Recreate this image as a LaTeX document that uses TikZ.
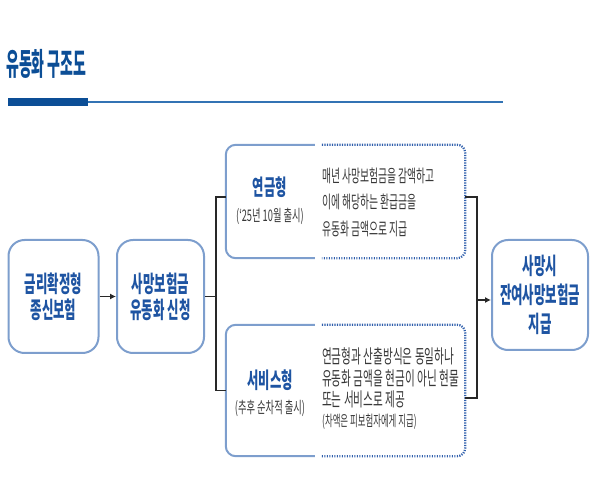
\documentclass[tikz,border=0pt]{standalone}
\usepackage{fontspec}
\newfontfamily\krT[FakeStretch=0.45]{Noto Sans CJK KR}
\newfontfamily\krB[FakeStretch=0.54]{Noto Sans CJK KR}
\newfontfamily\krK[FakeStretch=0.56]{Noto Sans CJK KR}
\newfontfamily\krS[FakeStretch=0.58]{Noto Sans CJK KR}
\newfontfamily\krD[FakeStretch=0.56]{Noto Sans CJK KR}
\usetikzlibrary{calc,arrows.meta}
\definecolor{tblue}{RGB}{12,78,150}
\definecolor{kblue}{RGB}{30,84,162}
\definecolor{bord}{RGB}{125,158,205}
\definecolor{dotb}{RGB}{48,95,172}
\definecolor{bodyc}{RGB}{55,55,55}
\definecolor{linec}{RGB}{40,40,40}
\definecolor{rulec}{RGB}{50,115,180}
\begin{document}
\begin{tikzpicture}[x=1pt,y=-1pt,
  bigbox/.style={draw=bord, line width=2pt, rounded corners=16, align=center,
    font=\krB\bfseries\fontsize{23}{26}\selectfont, text=kblue, inner sep=0pt},
  grp/.style={inner sep=0pt},
  midsolid/.style={draw=bord, line width=2pt, rounded corners=10},
  middot/.style={draw=dotb, line width=2.2pt, dash pattern=on 1.2pt off 1.3pt, rounded corners=8},
  conn/.style={draw=linec, line width=1.1pt},
  arr/.style={conn, -{Latex[length=6pt,width=6pt]}},
  kindt/.style={font=\krK\bfseries\fontsize{22}{24}\selectfont, text=kblue, inner sep=0pt},
  subt/.style={font=\krS\fontsize{16}{18}\selectfont, text=bodyc, inner sep=0pt},
  bodyt/.style={font=\krD\fontsize{17.5}{26.5}\selectfont, text=bodyc, align=left, inner sep=0pt, anchor=west},
]
\useasboundingbox (0,0) rectangle (614,481);
% title
\node[anchor=west, inner sep=0pt, font=\krT\bfseries\fontsize{31}{34}\selectfont, text=tblue] (title) at (6,64) {유동화 구조도};
\fill[tblue] (8,98.5) rectangle (88,106);
\draw[rulec, line width=1.8pt] (88,101.7) -- (503,101.7);
% left boxes
\node[bigbox, minimum width=90pt, minimum height=113pt] (b1) at (53.5,296.5) {금리확정형\\종신보험};
\node[bigbox, minimum width=87pt, minimum height=113pt] (b2) at (160.5,296.5) {사망보험금\\유동화 신청};
\node[bigbox, minimum width=96pt, minimum height=110pt, font=\krB\bfseries\fontsize{23}{29}\selectfont] (b3) at (540,295) {사망시\\잔여사망보험금\\지급};
% middle groups
\node[grp, minimum width=239pt, minimum height=113pt] (mtop) at (345.5,201.5) {};
\node[grp, minimum width=239pt, minimum height=131pt] (mbot) at (345.5,390.5) {};
\draw[midsolid] ($(mtop.north west)+(89,0)$) -- (mtop.north west) -- (mtop.south west) -- ($(mtop.south west)+(89,0)$);
\draw[middot] ($(mtop.north west)+(96,0)$) -- (mtop.north east) -- (mtop.south east) -- ($(mtop.south west)+(96,0)$);
\draw[midsolid] ($(mbot.north west)+(89,0)$) -- (mbot.north west) -- (mbot.south west) -- ($(mbot.south west)+(89,0)$);
\draw[middot] ($(mbot.north west)+(96,0)$) -- (mbot.north east) -- (mbot.south east) -- ($(mbot.south west)+(96,0)$);
% texts in middle boxes
\node[kindt] (k1) at (270,187) {연금형};
\node[subt] (s1) at (270,216) {(‘25년 10월 출시)};
\node[bodyt] (d1) at (322,202) {매년 사망보험금을 감액하고\\이에 해당하는 환급금을\\유동화 금액으로 지급};
\node[kindt] (k2) at (270,380) {서비스형};
\node[subt] (s2) at (270,408) {(추후 순차적 출시)};
\node[bodyt, font=\krD\fontsize{19}{21.5}\selectfont] (d2) at (322,378) {연금형과 산출방식은 동일하나\\유동화 금액을 현금이 아닌 현물\\또는 서비스로 제공};
\node[bodyt, font=\krD\fontsize{15}{17}\selectfont] (d3) at (322,422) {(차액은 피보험자에게 지급)};
% connectors
\coordinate (jl) at (216,296.5);
\coordinate (jr) at (477,300);
\draw[arr] (b1) -- (b2);
\draw[conn] (b2.east) -- (jl);
\draw[conn] ([yshift=4.5pt]mtop.west) -| (jl) |- (mbot.west);
\draw[conn] ([yshift=4.5pt]mtop.east) -| (jr) |- ([yshift=-7.5pt]mbot.east);
\draw[arr] (jr) -- (jr -| b3.west);
\end{tikzpicture}
\end{document}
